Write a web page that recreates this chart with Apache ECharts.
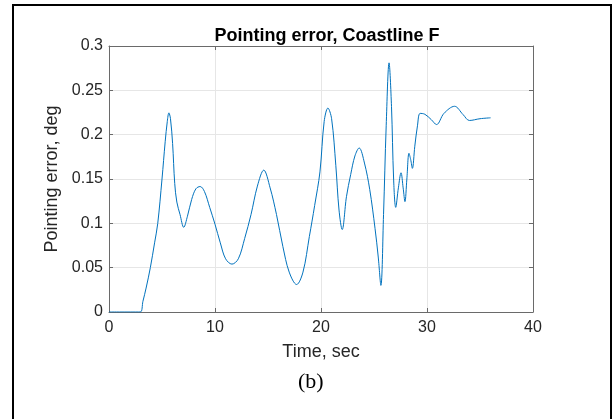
<!DOCTYPE html>
<html>
<head>
<meta charset="utf-8">
<script src="https://cdn.jsdelivr.net/npm/echarts@6/dist/echarts.min.js"></script>
<style>
  html, body { margin: 0; padding: 0; background: #fff; }
  #chart { width: 612px; height: 419px; }
</style>
</head>
<body>
<div id="chart"></div>
<script>
// 时间（秒）和指向误差（度）
const timeSec = [0, 1.0, 2.0, 2.95, 3.2, 3.5, 3.9, 4.3, 4.6, 5.0, 5.3, 5.5, 5.65, 5.8, 6.0, 6.2, 6.4, 6.7, 7.05, 7.4, 7.8, 8.2, 8.6,
  9.0, 9.5, 10.0, 10.5, 11.0, 11.6, 12.2, 12.8, 13.4, 14.0, 14.6, 15.2, 15.8, 16.4, 17.0, 17.7, 18.3, 18.9, 19.4, 19.9,
  20.3, 20.65, 21.0, 21.4, 21.7, 22.0, 22.4, 22.8, 23.2, 23.6, 24.1, 24.6, 25.1, 25.4, 25.65, 25.9, 26.15, 26.42, 26.65, 26.85,
  27.05, 27.3, 27.55, 27.75, 27.92, 28.1, 28.3, 28.46, 28.62, 28.85, 29.1, 29.35, 29.8, 30.4, 30.9, 31.6, 32.6, 33.4, 34.0, 35.0, 36.0];
const errDeg = [0, 0, 0, 0, 0.012, 0.027, 0.05, 0.078, 0.1, 0.15, 0.192, 0.215, 0.2246, 0.218, 0.19, 0.145, 0.124, 0.11, 0.0955, 0.108, 0.127, 0.139, 0.1415,
  0.136, 0.118, 0.099, 0.078, 0.06, 0.054, 0.06, 0.083, 0.11, 0.142, 0.16, 0.14, 0.11, 0.074, 0.045, 0.031, 0.045, 0.085, 0.12, 0.158,
  0.215, 0.23, 0.218, 0.165, 0.115, 0.093, 0.13, 0.155, 0.176, 0.185, 0.168, 0.138, 0.094, 0.062, 0.03, 0.11, 0.21, 0.281, 0.232, 0.15,
  0.118, 0.14, 0.157, 0.14, 0.1245, 0.15, 0.179, 0.172, 0.162, 0.187, 0.21, 0.224, 0.223, 0.217, 0.2114, 0.224, 0.232, 0.2227, 0.216, 0.218, 0.219];
const xTicks = [0, 10, 20, 30, 40];
const yTicks = [0, 0.05, 0.1, 0.15, 0.2, 0.25, 0.3];

const chart = echarts.init(document.getElementById('chart'), null, { renderer: 'canvas' });

let points = timeSec.map((t, i) => [t, errDeg[i]]);
let axisColor = '#6a6a6a';
let gridColor = '#e6e6e6';
let labelFont = { color: '#262626', fontSize: 16, fontFamily: 'Liberation Sans, Arial, sans-serif' };

let option = {
  backgroundColor: '#fff',
  animation: false,
  title: {
    text: 'Pointing error, Coastline F',
    left: 322, top: 22, textAlign: 'center',
    textStyle: { fontSize: 18, fontWeight: 'bold', color: '#000', fontFamily: 'Liberation Sans, Arial, sans-serif' }
  },
  grid: { left: 109, right: 79, top: 46, bottom: 107, containLabel: false },
  xAxis: [{
    type: 'value', min: xTicks[0], max: xTicks[xTicks.length - 1], interval: 10,
    name: 'Time, sec', nameLocation: 'middle', nameGap: 31,
    nameTextStyle: { fontSize: 18, color: '#262626', fontFamily: 'Liberation Sans, Arial, sans-serif' },
    axisLine: { show: true, lineStyle: { color: axisColor, width: 1 } },
    axisTick: { show: true, inside: true, length: 4, lineStyle: { color: axisColor } },
    axisLabel: Object.assign({ margin: 8 }, labelFont),
    splitLine: { show: true, lineStyle: { color: gridColor, width: 1 } }
  }, {
    type: 'value', position: 'top', min: 0, max: 40, interval: 10,
    axisLine: { show: true, onZero: false, lineStyle: { color: axisColor, width: 1 } },
    axisTick: { show: true, inside: true, length: 4, lineStyle: { color: axisColor } },
    axisLabel: { show: false }, splitLine: { show: false }
  }],
  yAxis: [{
    type: 'value', min: yTicks[0], max: yTicks[yTicks.length - 1], interval: 0.05,
    name: 'Pointing error, deg', nameLocation: 'middle', nameGap: 42,
    nameTextStyle: { fontSize: 18, color: '#262626', fontFamily: 'Liberation Sans, Arial, sans-serif' },
    axisLine: { show: true, lineStyle: { color: axisColor, width: 1 } },
    axisTick: { show: true, inside: true, length: 4, lineStyle: { color: axisColor } },
    axisLabel: Object.assign({ margin: 6, formatter: v => String(+v.toFixed(2)) }, labelFont),
    splitLine: { show: true, lineStyle: { color: gridColor, width: 1 } }
  }, {
    type: 'value', position: 'right', min: 0, max: 0.3, interval: 0.05,
    axisLine: { show: true, onZero: false, lineStyle: { color: axisColor, width: 1 } },
    axisTick: { show: true, inside: true, length: 4, lineStyle: { color: axisColor } },
    axisLabel: { show: false }, splitLine: { show: false }
  }],
  series: [{
    type: 'line',
    data: points,
    xAxisIndex: 0, yAxisIndex: 0,
    showSymbol: false,
    smooth: 0.35,
    lineStyle: { color: '#0072BD', width: 1 }
  }],
  graphic: [
    // 外框：左、上、右三条线
    { type: 'line', shape: { x1: 13, y1: 4, x2: 13, y2: 419 }, style: { stroke: '#000', lineWidth: 2 } },
    { type: 'line', shape: { x1: 12, y1: 5, x2: 612, y2: 5 }, style: { stroke: '#000', lineWidth: 2 } },
    { type: 'line', shape: { x1: 611, y1: 4, x2: 611, y2: 419 }, style: { stroke: '#000', lineWidth: 2 } },
    {
      type: 'text', left: 298, top: 371,
      style: { text: '(b)', fontSize: 22, fill: '#000', fontFamily: 'Liberation Serif, Times New Roman, serif' }
    }
  ]
};

chart.setOption(option);
window.onresize = function () {
  chart.resize();
}
</script>
</body>
</html>
